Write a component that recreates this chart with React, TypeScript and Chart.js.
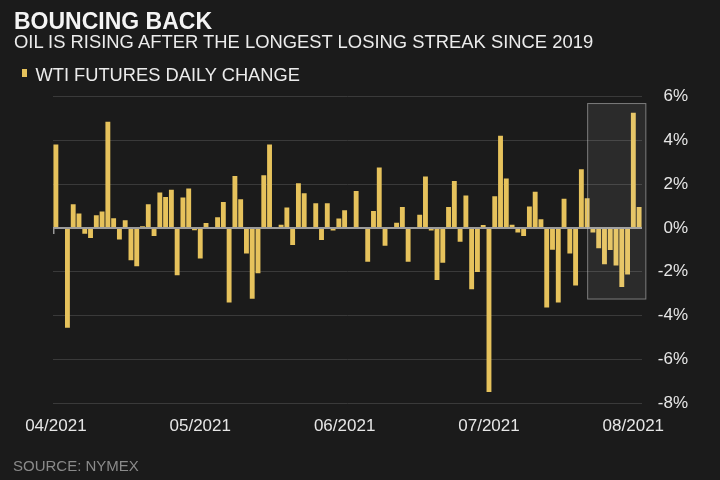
import React, { useEffect, useRef } from "react";
import { Chart, registerables } from "chart.js";

Chart.register(...registerables);

const FONT = '"Liberation Sans", Arial, Helvetica, sans-serif';

const TITLE = "BOUNCING BACK";
const SUBTITLE = "OIL IS RISING AFTER THE LONGEST LOSING STREAK SINCE 2019";
const SERIES_NAME = "WTI FUTURES DAILY CHANGE";
const SOURCE = "SOURCE: NYMEX";

// daily % change, one entry per trading slot
const dailyChange: number[] = [
  3.81, 0, -4.56, 1.08, 0.66, -0.26, -0.46, 0.58, 0.75, 4.86,
  0.44, -0.53, 0.35, -1.48, -1.75, 0.08, 1.08, -0.37, 1.62, 1.42,
  1.75, -2.16, 1.39, 1.8, -0.1, -1.4, 0.23, 0, 0.49, 1.19,
  -3.41, 2.38, 1.31, -1.17, -3.23, -2.07, 2.41, 3.81, 0, 0.15,
  0.93, -0.78, 2.04, 1.59, 0, 1.13, -0.55, 1.13, -0.12, 0.43,
  0.81, 0, 1.69, 0, -1.54, 0.78, 2.76, -0.81, 0, 0.24,
  0.96, -1.54, 0.05, 0.61, 2.35, -0.12, -2.38, -1.59, 0.96, 2.15,
  -0.63, 1.48, -2.8, -2.01, 0.14, -7.5, 1.45, 4.22, 2.26, 0.15,
  -0.21, -0.37, 0.98, 1.65, 0.4, -3.64, -0.99, -3.41, 1.33, -1.17,
  -2.63, 2.68, 1.36, -0.21, -0.93, -1.66, -1.01, -1.71, -2.7, -2.13,
  5.27, 0.96,
];

// tick labels shown every 25 slots
const tickLabels: string[] = ["04/2021", "05/2021", "06/2021", "07/2021", "08/2021"];
const tickEvery = 25;

const categories: string[] = dailyChange.map((_, i) =>
  i % tickEvery === 0 && tickLabels[i / tickEvery] ? tickLabels[i / tickEvery] : ""
);

// highlighted losing streak window (slot index range, value range)
const highlightX: number[] = [92, 102.25];
const highlightY: number[] = [-3.27, 5.71];

const yMin = -8;
const yMax = 6;
const yStep = 2;

export default function App() {
  const ref = useRef<HTMLCanvasElement | null>(null);

  useEffect(() => {
    if (!ref.current) return;

    const overlay = {
      id: "overlay",
      afterDatasetsDraw(chart: any) {
        const { ctx, chartArea, scales } = chart;
        const xs = scales.x;
        const ys = scales.y;
        const n = dailyChange.length;
        const pitch = (chartArea.right - chartArea.left) / n;
        const px = (v: number) => xs.getPixelForValue(0) + v * pitch;
        const x0 = px(highlightX[0]);
        const x1 = px(highlightX[1]);
        const y0 = ys.getPixelForValue(highlightY[1]);
        const y1 = ys.getPixelForValue(highlightY[0]);
        ctx.save();
        ctx.fillStyle = "rgba(255,255,255,0.075)";
        ctx.fillRect(x0, y0, x1 - x0, y1 - y0);
        ctx.strokeStyle = "rgba(190,190,190,0.55)";
        ctx.lineWidth = 1;
        ctx.strokeRect(x0 + 0.5, y0 + 0.5, x1 - x0 - 1, y1 - y0 - 1);
        // small tick at the left end of the zero line
        const zy = ys.getPixelForValue(0);
        ctx.strokeStyle = "#9a9a9a";
        ctx.lineWidth = 1.5;
        ctx.beginPath();
        ctx.moveTo(chartArea.left + 0.75, zy);
        ctx.lineTo(chartArea.left + 0.75, zy + 6);
        ctx.stroke();
        ctx.restore();
      },
    };

    const chart = new Chart(ref.current, {
      type: "bar",
      data: {
        labels: categories,
        datasets: [
          {
            label: SERIES_NAME,
            data: dailyChange,
            backgroundColor: "#e6c25c",
            borderWidth: 0,
            barPercentage: 0.88,
            categoryPercentage: 0.96,
          },
        ],
      },
      options: {
        animation: false,
        responsive: false,
        maintainAspectRatio: false,
        layout: { padding: { left: 53, top: 96.7, right: 32, bottom: 0 } },
        plugins: {
          legend: { display: false },
          tooltip: { enabled: false },
          title: { display: false },
        },
        scales: {
          x: {
            type: "category",
            offset: true,
            grid: { display: false, drawTicks: false },
            border: { display: false },
            ticks: {
              autoSkip: false,
              maxRotation: 0,
              minRotation: 0,
              padding: 13,
              color: "#e6e6e6",
              font: { family: FONT, size: 17 },
            },
            afterFit: (scale: any) => {
              scale.height = 77;
            },
          },
          y: {
            position: "right",
            min: yMin,
            max: yMax,
            grid: {
              drawTicks: false,
              color: (c: any) => (c.tick && c.tick.value === 0 ? "#9c9c9c" : "#3a3a3a"),
              lineWidth: (c: any) => (c.tick && c.tick.value === 0 ? 2 : 1),
            },
            border: { display: false },
            ticks: {
              stepSize: yStep,
              crossAlign: "far",
              padding: 14,
              color: "#e6e6e6",
              font: { family: FONT, size: 17 },
              callback: (v: any) => `${v}%`,
            },
            afterFit: (scale: any) => {
              scale.width = 46;
            },
          },
        },
      },
      plugins: [overlay],
    });

    return () => chart.destroy();
  }, []);

  return (
    <div
      style={{
        position: "absolute",
        left: 0,
        top: 0,
        width: 720,
        height: 480,
        background: "#1b1b1b",
        overflow: "hidden",
        fontFamily: FONT,
      }}
    >
      <canvas ref={ref} width={720} height={480} style={{ position: "absolute", left: 0, top: 0, width: 720, height: 480 }} />
      <div
        style={{
          position: "absolute",
          left: 14,
          top: 9.7,
          fontSize: 23,
          lineHeight: "23px",
          fontWeight: "bold",
          color: "#f4f4f4",
          whiteSpace: "nowrap",
        }}
      >
        {TITLE}
      </div>
      <div
        style={{
          position: "absolute",
          left: 14,
          top: 33,
          fontSize: 18.4,
          lineHeight: "18px",
          color: "#ececec",
          whiteSpace: "nowrap",
        }}
      >
        {SUBTITLE}
      </div>
      <div
        style={{
          position: "absolute",
          left: 22,
          top: 69,
          width: 5,
          height: 8,
          background: "#e6c25c",
        }}
      />
      <div
        style={{
          position: "absolute",
          left: 35.5,
          top: 65.6,
          fontSize: 18.3,
          lineHeight: "18px",
          color: "#ececec",
          whiteSpace: "nowrap",
        }}
      >
        {SERIES_NAME}
      </div>
      <div
        style={{
          position: "absolute",
          left: 13,
          top: 458.3,
          fontSize: 15,
          lineHeight: "15px",
          color: "#8a8a8a",
          whiteSpace: "nowrap",
        }}
      >
        {SOURCE}
      </div>
    </div>
  );
}
